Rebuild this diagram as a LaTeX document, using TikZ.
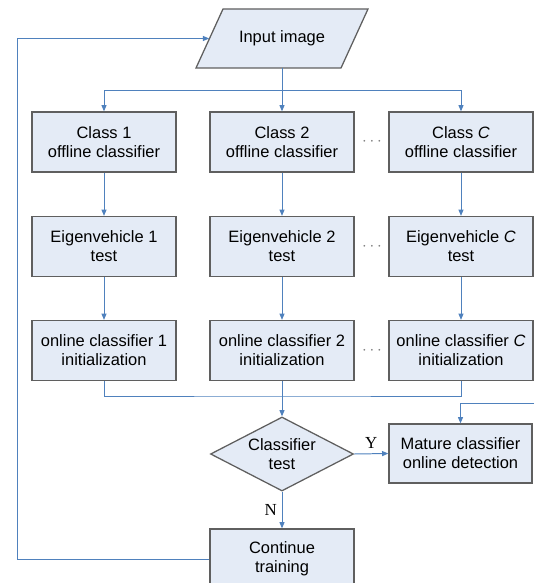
\documentclass[tikz,border=0pt]{standalone}
\usepackage{fontspec}
\setmainfont{Liberation Sans}
\newfontfamily\ynfont{Liberation Serif}
\usetikzlibrary{shapes.geometric,arrows.meta}
\definecolor{boxfill}{RGB}{228,235,246}
\definecolor{boxline}{RGB}{95,95,95}
\definecolor{flow}{RGB}{79,129,189}

\begin{document}
\begin{tikzpicture}[x=0.025cm, y=-0.025cm,
    font=\fontsize{11.7}{13.5}\selectfont,
    box/.style={draw=boxline, fill=boxfill, line width=0.9pt, minimum width=3.6cm, minimum height=1.5cm, inner sep=0pt, align=center},
    conn/.style={draw=flow, line width=0.7pt},
    arr/.style={conn, -{Triangle[length=4.5pt,width=3.6pt]}},
    dots/.style={text=gray},
    yn/.style={font=\ynfont\fontsize{12}{14}\selectfont}]
    \useasboundingbox (0,0) rectangle (534,583);

    % Input (parallelogram)
    \coordinate (in1) at (196,68);
    \coordinate (in2) at (223,9);
    \coordinate (in3) at (368,9);
    \coordinate (in4) at (341,68);
    \filldraw[draw=boxline, fill=boxfill, line width=0.9pt] (in1) -- (in2) -- (in3) -- (in4) -- cycle;
    \node[minimum width=3.625cm, minimum height=1.475cm, inner sep=0pt] (inp) at (282,38.5) {Input image};

    % three columns
    \foreach \x/\k/\c in {104/1/1, 282/2/2, 461/3/\textit{C}} {
        \node[box] (off\k) at (\x,142) {Class \c\\offline classifier};
        \node[box] (eig\k) at (\x,246.5) {Eigenvehicle \c\\test};
        \node[box] (onl\k) at (\x,350.5) {online classifier \c\\initialization};
        \draw[arr] (off\k) -- (eig\k);
        \draw[arr] (eig\k) -- (onl\k);
    }
    \foreach \y/\k in {142/a, 246.5/b, 350.5/c} {
        \node[dots] (dot\k) at (372,\y) {$\cdots$};
    }

    % test and outputs
    \node[box, diamond, aspect=1.93, minimum width=3.575cm, minimum height=1.85cm] (test) at (282,454) {Classifier\\test};
    \node[box, minimum width=3.575cm, minimum height=1.475cm] (mature) at (460.5,453.5) {Mature classifier\\online detection};
    \node[box] (cont) at (282,559) {Continue\\training};

    % connectors
    \coordinate (split) at (282,90);
    \coordinate (merge) at (282,396);
    \coordinate (looptop) at (17,38.5);
    \coordinate (rightin) at (534,403);
    \draw[conn] (inp.south) -- (split);
    \foreach \k in {1,2,3} {
        \draw[arr] (split) -| (off\k.north);
    }
    \draw[conn] (onl1.south) |- (merge) -| (onl3.south);
    \draw[arr] (onl2.south) -- (test.north);
    \draw[arr] (test.east) -- node[above, yn] {Y} (mature.west);
    \draw[arr] (test.south) -- node[left, yn] {N} (cont.north);
    \draw[arr] (rightin) -| (mature.north);
    \draw[conn] (cont.west) -| (looptop);
    \draw[arr] (looptop) -- (inp.west);
\end{tikzpicture}
\end{document}
